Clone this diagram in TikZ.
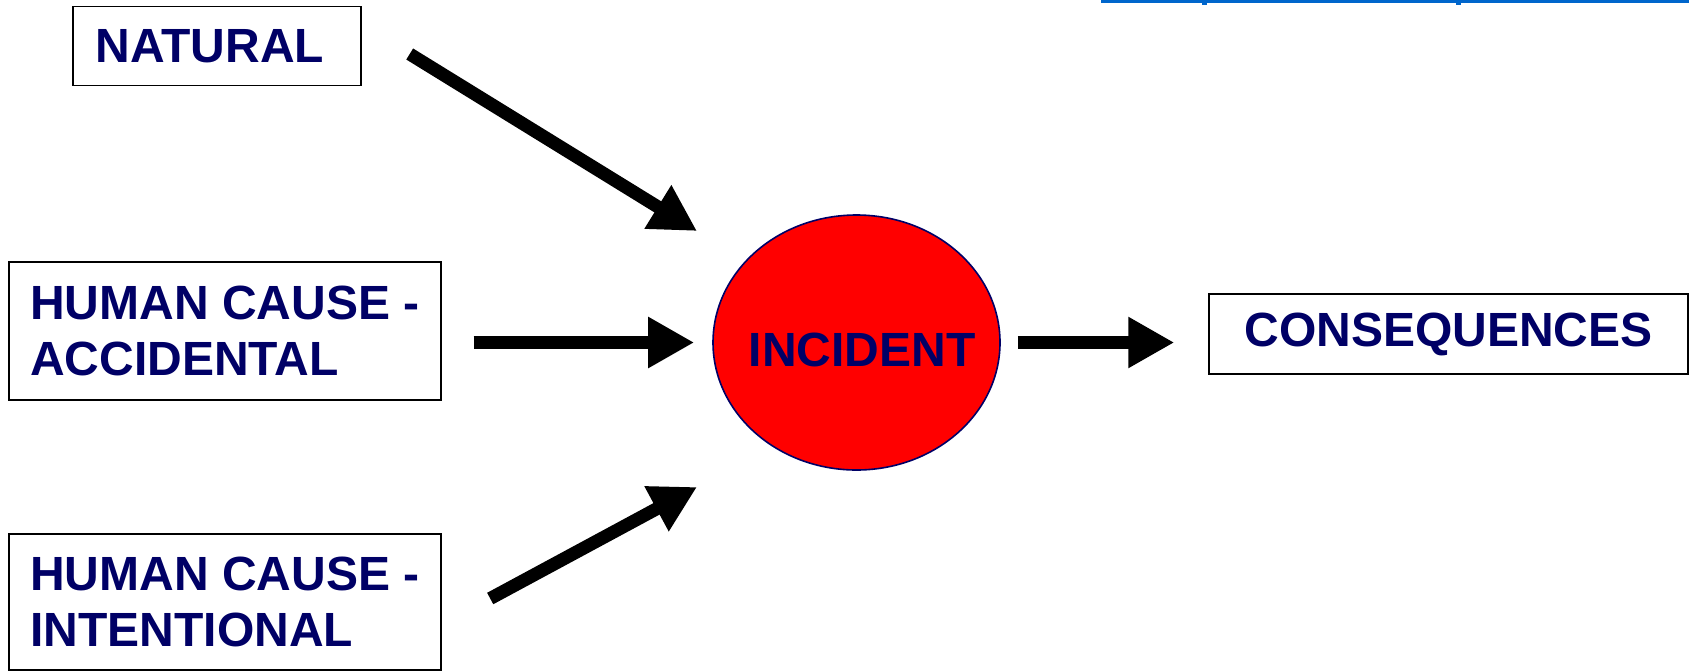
\documentclass[tikz,border=0pt]{standalone}
\usepackage{fontspec}
\setmainfont{Liberation Sans}
\usepackage{xcolor}
\definecolor{marino}{RGB}{0,0,102}
\definecolor{rojo}{RGB}{255,0,0}
\definecolor{azulcl}{RGB}{0,102,204}
\usepackage{tikz}
\usetikzlibrary{positioning,arrows.meta,shapes.geometric,calc}

\begin{document}
\begin{tikzpicture}[
    x=0.5pt, y=-0.5pt,
    font=\fontsize{24}{28}\selectfont\bfseries,
    cause/.style={rectangle, draw=black, line width=0.7pt, text=marino,
      align=left, inner sep=0pt, minimum width=216pt},
    event/.style={ellipse, draw=marino, line width=0.8pt, fill=rojo,
      text=marino, inner sep=0pt, minimum width=143.5pt, minimum height=127.5pt},
    flecha/.style={draw=black, line width=6.5pt,
      -{Triangle[length=23pt,width=24pt]}}
  ]
    \useasboundingbox (0,0) rectangle (1689,671);
    \fill[azulcl] (1101,0) rectangle (1689,3);
    \fill[azulcl] (1202,0) rectangle (1207,5);
    \fill[azulcl] (1456,0) rectangle (1461,5);

    \node[cause, minimum width=144pt, minimum height=39.5pt] (nat) at (217,46) {\hspace*{-7pt}NATURAL};
    \node[cause, minimum height=69pt] (acc) at (225,331) {HUMAN CAUSE -\\ACCIDENTAL};
    \node[cause, minimum height=68pt] (int) at (225,602) {HUMAN CAUSE -\\INTENTIONAL};
    \node[event, label={[text=marino, xshift=2.75pt, yshift=-3.75pt]center:INCIDENT}] (inc) at (856.5,342.5) {};
    \node[cause, align=center, minimum width=239.5pt, minimum height=40pt] (cons) at (1448.5,334) {CONSEQUENCES};

    \coordinate (natTail) at ($(nat.east)+(48,8)$);
    \coordinate (natTip) at ($(inc.center)+(-159.5,-111.5)$);
    \coordinate (intTail) at ($(int.east)+(48.5,-3.5)$);
    \coordinate (intTip) at ($(inc.center)+(-159.5,144.5)$);

    \draw[flecha] (natTail) -- (natTip);
    \draw[flecha, shorten <=16pt, shorten >=9pt] (acc.east |- inc.west) -- (inc.west);
    \draw[flecha] (intTail) -- (intTip);
    \draw[flecha, shorten <=8.5pt, shorten >=17pt] (inc.east) -- (cons.west |- inc.east);
\end{tikzpicture}
\end{document}
